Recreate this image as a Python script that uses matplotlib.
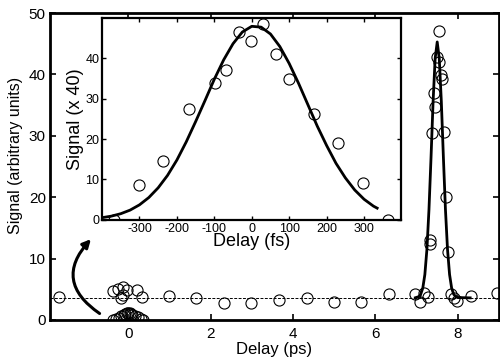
import numpy as np
import matplotlib
matplotlib.use('Agg')
from matplotlib import pyplot as plt
from matplotlib.patches import FancyArrowPatch

plt.rcParams['font.family'] = ['Liberation Sans', 'DejaVu Sans']
plt.rcParams['axes.unicode_minus'] = False

# inset data: delay (fs), signal (x 40)
inset_delay = [-369, -300, -236, -167, -99, -68, -33, -2, 31, 65, 99, 165, 231, 298, 364]
inset_signal = [0.0, 8.6, 14.6, 27.4, 33.8, 37.0, 46.4, 44.2, 48.4, 41.0, 34.8, 26.2, 19.0, 9.1, 0.0]

# inset fit curve
inset_fit_delay = [-400, -375, -350, -325, -300, -275, -250, -225, -200, -175, -150, -125,
                   -100, -75, -50, -25, 0, 25, 50, 75, 100, 125, 150, 175, 200, 225, 250,
                   275, 300, 325, 335]
inset_fit_signal = [0.54, 0.92, 1.52, 2.41, 3.71, 5.52, 7.93, 11.0, 14.8, 19.3, 24.3, 29.5,
                    34.8, 39.6, 43.6, 46.5, 47.9, 47.7, 46.0, 42.9, 38.7, 33.8, 28.5, 23.2,
                    18.4, 14.0, 10.4, 7.4, 5.1, 3.4, 2.9]

# main data: delay (ps), signal (arbitrary units)
main_delay = [-1.68, -0.38, -0.26, -0.12, -0.03, -0.17, -0.13, 0.21, 0.33,
              0.98, 1.65, 2.33, 2.97, 3.65, 4.33, 4.99, 5.66, 6.33,
              6.97, 7.08, 7.19, 7.27, 7.32, 7.32, 7.38, 7.42, 7.45, 7.50, 7.54, 7.54,
              7.60, 7.62, 7.66, 7.72, 7.77, 7.83, 7.91, 7.99, 8.31, 8.96]
main_signal = [3.7, 4.7, 5.1, 5.3, 4.9, 3.6, 4.1, 4.8, 3.8,
               3.95, 3.5, 2.7, 2.7, 3.25, 3.5, 3.0, 3.0, 4.2,
               4.2, 3.0, 4.45, 3.75, 13.1, 12.3, 30.5, 36.9, 34.7, 42.9, 42.1, 47.1,
               39.9, 39.3, 30.6, 20.0, 11.0, 4.2, 3.65, 3.1, 3.85, 4.35]

# peak fit curve in main plot
peak_fit_delay = [6.97, 7.05, 7.10, 7.15, 7.20, 7.25, 7.30, 7.35, 7.40, 7.45, 7.50,
                  7.55, 7.60, 7.65, 7.70, 7.75, 7.80, 7.85, 7.90, 7.95, 8.00, 8.30]
peak_fit_signal = [3.62, 3.79, 4.19, 5.20, 7.40, 11.5, 18.0, 26.5, 35.6, 42.6, 45.3,
                   42.6, 35.6, 26.5, 18.0, 11.5, 7.40, 5.20, 4.19, 3.79, 3.65, 3.60]

baseline = 3.6

# zero-delay data on the main scale
zero_delay = np.array(inset_delay) / 1000.0
zero_signal = np.array(inset_signal) / 40.0

fig = plt.figure(figsize=(5.0, 3.64), dpi=100)
ax = fig.add_axes([0.1, 0.121, 0.898, 0.843])
mk = dict(marker='o', mfc='none', mec='black', ms=8, mew=0.8, ls='none')
ax.axhline(baseline, color='black', lw=0.7, dashes=(3, 1.5))
ax.plot(main_delay, main_signal, **mk)
ax.plot(zero_delay, zero_signal, **mk)
ax.plot(peak_fit_delay, peak_fit_signal, color='black', lw=2)
ax.set_xlim(-1.9, 9.0)
ax.set_ylim(0, 50)
ax.set_xticks([0, 2, 4, 6, 8])
ax.set_yticks([0, 10, 20, 30, 40, 50])
ax.tick_params(direction='in', top=True, right=True, labelsize=11, length=4, width=1.2)
ax.tick_params(axis='x', pad=5)
ax.tick_params(axis='y', pad=3)
for s in ax.spines.values():
    s.set_linewidth(2)
ax.set_xlabel('Delay (ps)', fontsize=12, labelpad=1)
ax.set_ylabel('Signal (arbitrary units)', fontsize=11.5, labelpad=2)
ax.yaxis.set_label_coords(-0.06, 0.535)

arrow = FancyArrowPatch((-0.64, 0.8), (-0.86, 13.5), arrowstyle='-|>', mutation_scale=12,
                        connectionstyle='arc3,rad=-0.6', color='black', lw=2.2)
ax.add_patch(arrow)

ins = fig.add_axes([0.204, 0.396, 0.599, 0.555])
ins.plot(inset_delay, inset_signal, **mk)
ins.plot(inset_fit_delay, inset_fit_signal, color='black', lw=2)
ins.set_xlim(-400, 400)
ins.set_ylim(0, 50)
ins.set_xticks([-300, -200, -100, 0, 100, 200, 300])
ins.set_yticks([0, 10, 20, 30, 40])
ins.tick_params(direction='in', top=True, right=True, labelsize=9, length=3, width=1, pad=2)
for s in ins.spines.values():
    s.set_linewidth(1.6)
ins.set_xlabel('Delay (fs)', fontsize=13, labelpad=-1)
ins.set_ylabel('Signal (x 40)', fontsize=13, labelpad=1)

fig.savefig('out.png', dpi=100)
